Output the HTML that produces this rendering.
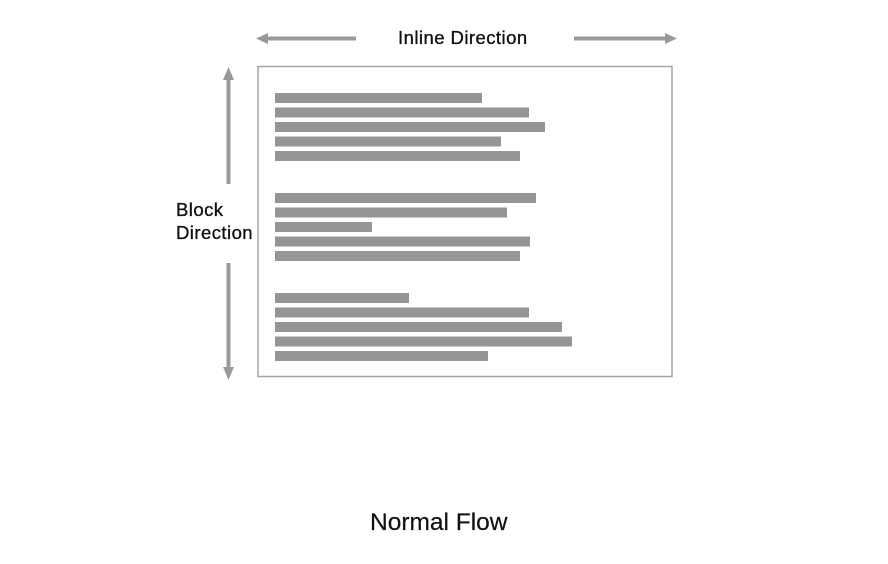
<!DOCTYPE html>
<html><head><meta charset="utf-8"><style>
html,body{margin:0;padding:0;background:#fff;}
body{width:888px;height:559px;overflow:hidden;}
svg text{font-family:"Liberation Sans",Arial,sans-serif;fill:#111;}
</style></head><body>
<svg width="888" height="559" viewBox="0 0 888 559" xmlns="http://www.w3.org/2000/svg">
<g fill="#999" stroke="none">
<rect x="266" y="36.5" width="90" height="4"/>
<polygon points="256,38.5 268,33 268,44"/>
<rect x="574" y="36.5" width="92" height="4"/>
<polygon points="677,38.5 665,33 665,44"/>
<rect x="226.5" y="78" width="4" height="106"/>
<polygon points="228.5,67 223,80 234,80"/>
<rect x="226.5" y="263" width="4" height="106"/>
<polygon points="228.5,380 223,367 234,367"/>
</g>
<rect x="258" y="66.5" width="414" height="310" fill="none" stroke="#a6a6a6" stroke-width="1.5"/>
<g fill="#959595">
<rect x="275" y="93" width="207" height="10"/>
<rect x="275" y="107.5" width="254" height="10"/>
<rect x="275" y="122" width="270" height="10"/>
<rect x="275" y="136.5" width="226" height="10"/>
<rect x="275" y="151" width="245" height="10"/>
<rect x="275" y="193" width="261" height="10"/>
<rect x="275" y="207.5" width="232" height="10"/>
<rect x="275" y="222" width="97" height="10"/>
<rect x="275" y="236.5" width="255" height="10"/>
<rect x="275" y="251" width="245" height="10"/>
<rect x="275" y="293" width="134" height="10"/>
<rect x="275" y="307.5" width="254" height="10"/>
<rect x="275" y="322" width="287" height="10"/>
<rect x="275" y="336.5" width="297" height="10"/>
<rect x="275" y="351" width="213" height="10"/>
</g>
<g font-size="18.5" letter-spacing="0.45" stroke="#111" stroke-width="0.35">
<text x="398" y="44">Inline Direction</text>
<text x="176" y="216">Block</text>
<text x="176" y="239">Direction</text>
</g>
<text x="370" y="530" font-size="24.5" stroke="#111" stroke-width="0.2">Normal Flow</text>
</svg>
</body></html>
